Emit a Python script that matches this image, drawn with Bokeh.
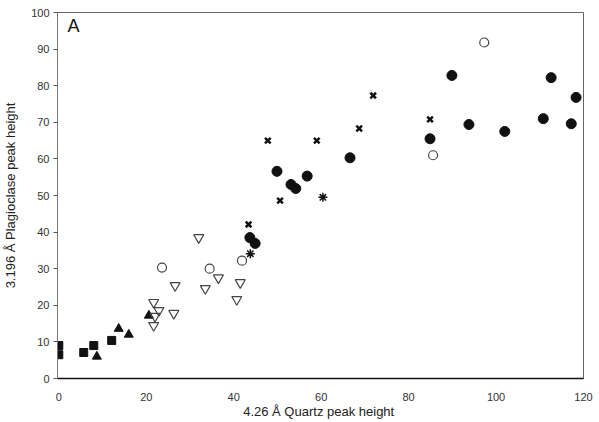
from bokeh.plotting import figure
from bokeh.models import Range1d, Label, FixedTicker
from bokeh.embed import file_html
from bokeh.resources import INLINE

# Data
sq_x = [0, 0, 5.7, 8.0, 12.1]
sq_y = [9.0, 6.5, 7.1, 9.0, 10.4]

tri_x = [8.7, 13.7, 16.0, 20.6]
tri_y = [6.0, 13.6, 12.0, 17.2]

itri_x = [21.7, 22.9, 22.0, 21.7, 26.3, 26.6, 32.0, 33.5, 36.5, 40.7, 41.5]
itri_y = [20.8, 18.6, 17.0, 14.5, 17.8, 25.4, 38.5, 24.6, 27.5, 21.6, 26.2]

ocirc_x = [23.6, 34.5, 41.9, 85.6, 97.3]
ocirc_y = [30.3, 30.0, 32.2, 61.0, 91.8]

star_x = [43.8, 60.4]
star_y = [34.1, 49.5]

xm_x = [43.4, 47.8, 50.6, 59.0, 68.7, 71.9, 84.9]
xm_y = [42.1, 65.0, 48.6, 65.0, 68.3, 77.3, 70.8]

fc_x = [43.7, 44.9, 49.9, 53.1, 54.2, 56.8, 66.6, 84.9, 89.9, 93.8, 102.0, 110.8, 112.6, 117.2, 118.3]
fc_y = [38.5, 36.9, 56.6, 53.0, 51.9, 55.3, 60.3, 65.5, 82.8, 69.4, 67.5, 71.0, 82.2, 69.6, 76.8]

x_ticks = [0, 20, 40, 60, 80, 100, 120]
y_ticks = [0, 10, 20, 30, 40, 50, 60, 70, 80, 90, 100]

p = figure(width=599, height=422, output_backend="svg", toolbar_location=None,
           x_range=Range1d(-0.3, 120), y_range=Range1d(0, 100),
           min_border_left=57, min_border_right=16, min_border_top=12, min_border_bottom=44)
p.background_fill_color = "white"
p.border_fill_color = "white"
p.outline_line_color = "#666666"
p.outline_line_width = 1
p.xgrid.visible = False
p.ygrid.visible = False

for ax in (p.xaxis[0], p.yaxis[0]):
    ax.major_label_text_font = "Liberation Sans"
    ax.major_label_text_font_size = "11px"
    ax.major_label_text_color = "#333333"
    ax.axis_label_text_font = "Liberation Sans"
    ax.axis_label_text_font_style = "normal"
    ax.axis_label_text_font_size = "13px"
    ax.axis_label_text_color = "#222222"
    ax.minor_tick_line_color = None

p.xaxis.ticker = FixedTicker(ticks=x_ticks)
p.yaxis.ticker = FixedTicker(ticks=y_ticks)
p.xaxis.axis_label = "4.26  Å Quartz peak height"
p.yaxis.axis_label = "3.196 Å Plagioclase peak height"
p.xaxis.axis_line_color = "#111111"
p.xaxis.axis_line_width = 1.5
p.xaxis.major_tick_line_color = None
p.xaxis.major_label_standoff = 8
p.xaxis.axis_label_standoff = 0
p.yaxis.axis_line_color = "#777777"
p.yaxis.major_tick_line_color = "#555555"
p.yaxis.major_tick_out = 4
p.yaxis.major_tick_in = 0
p.yaxis.major_label_standoff = 4
p.yaxis.axis_label_standoff = 10

dark = "#111111"
p.scatter(sq_x, sq_y, marker="square", size=8, fill_color=dark, line_color=dark)
p.scatter(tri_x, tri_y, marker="triangle", size=9, fill_color=dark, line_color=dark)
p.scatter(itri_x, itri_y, marker="inverted_triangle", size=10, fill_color=None,
          line_color="#444444", line_width=1.2)
p.scatter(ocirc_x, ocirc_y, marker="circle", size=9, fill_color=None,
          line_color="#444444", line_width=1.2)
p.scatter(star_x, star_y, marker="asterisk", size=9, line_color=dark, line_width=1.5)
p.scatter(xm_x, xm_y, marker="x", size=8, line_color=dark, line_width=2.5)
p.scatter(fc_x, fc_y, marker="circle", size=10, fill_color=dark, line_color=dark)

p.add_layout(Label(x=2, y=93.5, text="A", text_font="Liberation Sans",
                   text_font_size="18px", text_color="#111111"))

open("out.html", "w").write(file_html(p, INLINE))
